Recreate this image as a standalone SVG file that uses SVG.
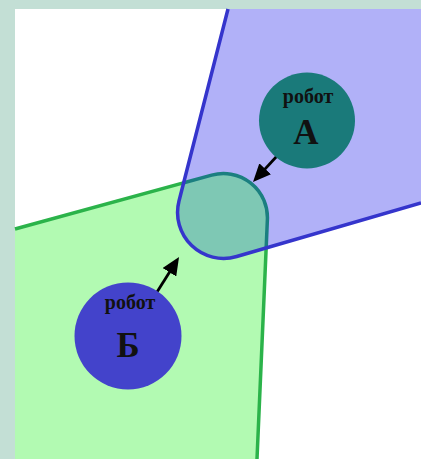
<svg xmlns="http://www.w3.org/2000/svg" width="421" height="459" viewBox="0 0 421 459">
  <style>
    .lbl { font-family: "Liberation Serif", "Times New Roman", serif; font-weight: bold; fill: #111111; text-anchor: middle; }
    .small { font-size: 20px; }
    .big { font-size: 35px; }
    .arrow { stroke: #000000; stroke-width: 2.8; fill: none; marker-end: url(#head); }
  </style>
  <defs>
    <marker id="head" markerUnits="userSpaceOnUse" viewBox="0 0 18 16" refX="14" refY="8" markerWidth="18" markerHeight="16" orient="auto">
      <path d="M0,0 L18,8 L0,16 Z" fill="#000000"/>
    </marker>
    <clipPath id="blueClip">
      <path d="M 228 9 L 179 201 A 46 46 0 0 0 236.7 256.5 L 421 203 L 421 9 Z"/>
    </clipPath>
  </defs>

  <rect x="0" y="0" width="421" height="459" fill="#c3dfd5"/>
  <rect x="15" y="9" width="406" height="450" fill="#ffffff"/>

  <g id="zoneB">
    <path d="M 15 229 L 211.7 175.1 A 44 44 0 0 1 267.4 219.4 L 257 459 L 15 459 Z" fill="#b2fab2"/>
    <path d="M 15 229 L 211.7 175.1 A 44 44 0 0 1 267.4 219.4 L 257 459" fill="none" stroke="#2bb34a" stroke-width="3.5"/>
  </g>

  <g id="zoneA">
    <path d="M 228 9 L 179 201 A 46 46 0 0 0 236.7 256.5 L 421 203 L 421 9 Z" fill="#b1b1f8"/>
  </g>

  <g id="overlap" clip-path="url(#blueClip)">
    <path d="M 15 229 L 211.7 175.1 A 44 44 0 0 1 267.4 219.4 L 257 459 L 15 459 Z" fill="#7ec8b4" stroke="#1b7f80" stroke-width="3.5"/>
  </g>

  <g id="zoneA-border">
    <path d="M 228 9 L 179 201 A 46 46 0 0 0 236.7 256.5 L 421 203" fill="none" stroke="#3535cc" stroke-width="3.5"/>
  </g>

  <g id="connectors">
    <line class="arrow" x1="277" y1="156" x2="255.7" y2="179.1"/>
    <line class="arrow" x1="157" y1="292" x2="176.9" y2="260.4"/>
  </g>

  <g id="robotA">
    <circle cx="307" cy="120.5" r="48" fill="#1a7a7a"/>
    <text class="lbl small" x="308" y="103">робот</text>
    <text class="lbl big" x="306" y="144">А</text>
  </g>

  <g id="robotB">
    <circle cx="128" cy="336" r="53.5" fill="#4343cb"/>
    <text class="lbl small" x="130" y="309">робот</text>
    <text class="lbl big" x="128" y="357">Б</text>
  </g>
</svg>
